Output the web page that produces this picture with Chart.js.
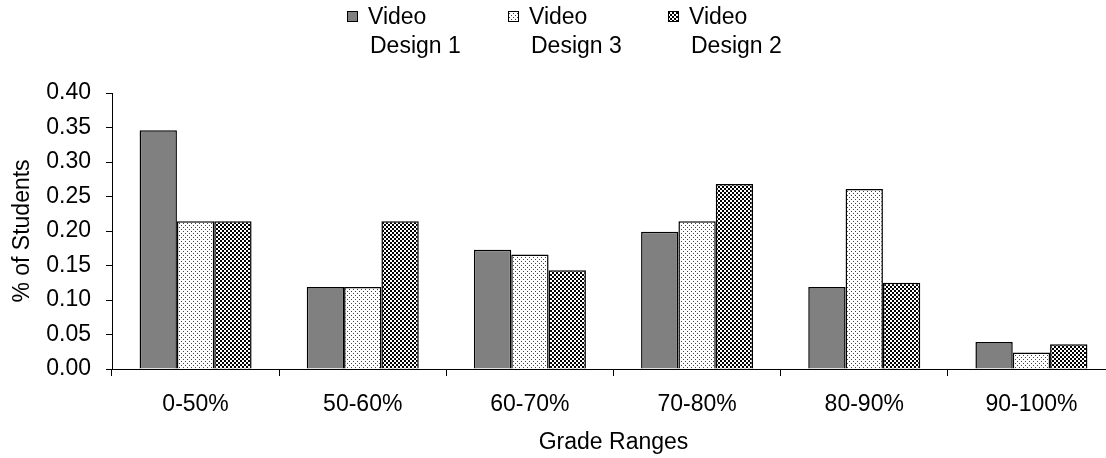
<!DOCTYPE html>
<html lang="en">
<head>
  <meta charset="UTF-8">
  <title>Grade Ranges</title>
  <style>
    body {
      margin: 0;
      background: white;
      overflow: hidden;
    }
    .wrap {
      width: 1106px;
      height: 458px;
      overflow: hidden;
    }
    canvas {
      display: block;
    }
  </style>
  <script src="https://cdn.jsdelivr.net/npm/chart.js"></script>
</head>
<body>
  <div class="wrap">
    <canvas id="gradeChart" width="1120" height="458"></canvas>
  </div>

  <script>
    const categories = ['0-50%', '50-60%', '60-70%', '70-80%', '80-90%', '90-100%'];
    const design1 = [0.346, 0.119, 0.173, 0.199, 0.119, 0.039];
    const design3 = [0.214, 0.119, 0.166, 0.214, 0.261, 0.024];
    const design2 = [0.214, 0.214, 0.143, 0.268, 0.125, 0.036];
    const seriesNames = [['Video', 'Design 1'], ['Video', 'Design 3'], ['Video', 'Design 2']];
    const yTicks = [0, 0.05, 0.1, 0.15, 0.2, 0.25, 0.3, 0.35, 0.4];

    const ctx = document.getElementById('gradeChart').getContext('2d');
    const FONT = '"Liberation Sans", Arial, sans-serif';
    const SIZE = 23;

    // small tiles for the hatched fills
    function makePattern(draw) {
      const c = document.createElement('canvas');
      c.width = 4;
      c.height = 4;
      const g = c.getContext('2d');
      draw(g);
      return ctx.createPattern(c, 'repeat');
    }

    const dotted = makePattern(g => {
      g.fillStyle = '#fff';
      g.fillRect(0, 0, 4, 4);
      g.fillStyle = '#444';
      g.fillRect(1, 1, 1, 1);
      g.fillRect(3, 3, 1, 1);
    });

    const checker = makePattern(g => {
      g.fillStyle = '#fff';
      g.fillRect(0, 0, 4, 4);
      g.fillStyle = '#000';
      g.fillRect(0, 0, 2, 2);
      g.fillRect(2, 2, 2, 2);
    });

    const fills = ['#808080', dotted, checker];

    // legend with two-line labels, drawn by hand
    const legendPlugin = {
      id: 'twoLineLegend',
      afterDraw(chart) {
        const g = chart.ctx;
        const xs = [347, 508, 668];
        g.save();
        g.font = SIZE + 'px ' + FONT;
        g.textBaseline = 'middle';
        xs.forEach((x, i) => {
          g.fillStyle = fills[i];
          g.fillRect(x, 11, 11, 11);
          g.strokeStyle = '#000';
          g.lineWidth = 1;
          g.strokeRect(x + 0.5, 11.5, 10, 10);
          g.fillStyle = '#000';
          g.fillText(seriesNames[i][0], x + 21, 18);
          g.fillText(seriesNames[i][1], x + 23, 47);
        });
        g.restore();
      }
    };

    const chart = new Chart(ctx, {
      type: 'bar',
      data: {
        labels: categories,
        datasets: [
          { label: 'Video Design 1', data: design1 },
          { label: 'Video Design 3', data: design3 },
          { label: 'Video Design 2', data: design2 }
        ].map((d, i) => Object.assign(d, {
          backgroundColor: fills[i],
          borderColor: '#000',
          borderWidth: 1.5,
          categoryPercentage: 0.67,
          barPercentage: 1.0
        }))
      },
      options: {
        responsive: false,
        animation: false,
        layout: {
          padding: { top: 93, left: 9, right: 5, bottom: 2 }
        },
        scales: {
          x: {
            afterFit(axis) {
              axis.height = 87;
            },
            grid: {
              display: true,
              drawOnChartArea: false,
              drawTicks: true,
              tickLength: 7,
              color: '#000',
              offset: true
            },
            border: { color: '#000', width: 1 },
            ticks: {
              color: '#000',
              font: { family: FONT, size: SIZE },
              padding: 15,
              maxRotation: 0
            },
            title: {
              display: true,
              text: 'Grade Ranges',
              color: '#000',
              font: { family: FONT, size: SIZE },
              padding: { top: 6, bottom: 0 }
            }
          },
          y: {
            min: 0,
            max: 0.4,
            afterFit(axis) {
              axis.width = 103;
            },
            afterBuildTicks(axis) {
              axis.ticks = yTicks.map(v => ({ value: v }));
            },
            grid: {
              display: true,
              drawOnChartArea: false,
              drawTicks: true,
              tickLength: 6,
              color: '#000'
            },
            border: { color: '#000', width: 1 },
            ticks: {
              color: '#000',
              font: { family: FONT, size: SIZE },
              padding: 15,
              callback: v => v.toFixed(2)
            },
            title: {
              display: true,
              text: '% of Students',
              color: '#000',
              font: { family: FONT, size: SIZE },
              padding: { top: 0, bottom: 0 }
            }
          }
        },
        plugins: {
          legend: { display: false },
          tooltip: { enabled: false }
        }
      },
      plugins: [legendPlugin]
    });
  </script>
</body>
</html>
